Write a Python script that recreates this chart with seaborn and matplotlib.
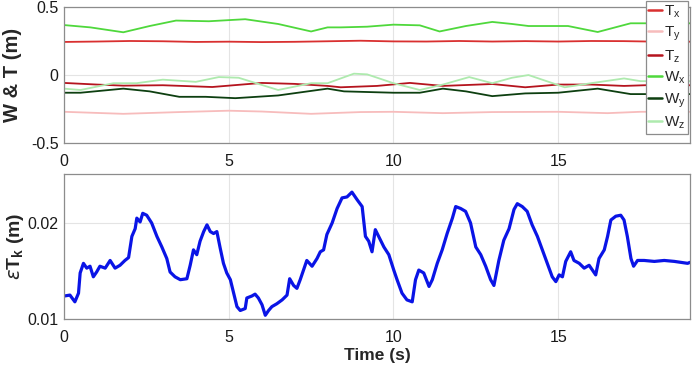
import matplotlib
matplotlib.use("Agg")
import matplotlib.pyplot as plt
import seaborn as sns
import pandas as pd

# --- top panel: W & T components (m) vs time (s) ---
t_tx = [0, 1.0, 2.0, 3.0, 4.0, 5.0, 6.0, 7.0, 8.0, 9.0, 10.0, 11.0, 12.0, 13.0, 14.0, 15.0, 16.0, 17.0, 18.0, 19.0]
tx = [0.243, 0.246, 0.25, 0.248, 0.243, 0.245, 0.242, 0.244, 0.248, 0.252, 0.247, 0.246, 0.25, 0.246, 0.249, 0.246, 0.25, 0.249, 0.245, 0.245]

t_ty = [0, 1.8, 3.5, 5.0, 6.0, 7.5, 9.0, 10.0, 11.5, 13.0, 15.0, 16.5, 17.5, 19.0]
ty = [-0.27, -0.285, -0.272, -0.262, -0.268, -0.285, -0.272, -0.27, -0.28, -0.272, -0.27, -0.28, -0.27, -0.27]

t_tz = [0, 1.0, 1.8, 3.0, 4.5, 6.0, 7.0, 8.0, 8.4, 9.5, 10.5, 11.5, 13.0, 14.0, 15.0, 16.0, 17.0, 18.0, 19.0]
tz = [-0.058, -0.07, -0.078, -0.075, -0.088, -0.058, -0.065, -0.08, -0.09, -0.08, -0.058, -0.08, -0.066, -0.09, -0.07, -0.07, -0.08, -0.072, -0.075]

t_wx = [0, 0.8, 1.8, 2.6, 3.4, 4.4, 5.5, 6.5, 7.5, 8.0, 8.4, 9.2, 10.0, 10.8, 11.4, 12.2, 13.0, 13.6, 14.1, 15.3, 16.2, 17.2, 18.0, 19.0]
wx = [0.367, 0.35, 0.314, 0.36, 0.40, 0.395, 0.41, 0.375, 0.32, 0.35, 0.35, 0.355, 0.37, 0.365, 0.32, 0.36, 0.39, 0.375, 0.36, 0.36, 0.316, 0.38, 0.38, 0.38]

t_wy = [0, 0.5, 1.8, 2.6, 3.5, 4.3, 5.2, 6.5, 8.0, 8.5, 10.0, 10.8, 11.5, 12.2, 13.0, 14.0, 15.0, 16.2, 17.2, 18.0, 19.0]
wy = [-0.13, -0.13, -0.10, -0.12, -0.16, -0.16, -0.17, -0.15, -0.10, -0.12, -0.13, -0.13, -0.10, -0.12, -0.155, -0.135, -0.13, -0.10, -0.14, -0.14, -0.14]

t_wz = [0, 0.5, 1.5, 2.2, 3.0, 4.0, 4.7, 5.3, 6.5, 7.5, 8.0, 8.8, 9.2, 10.0, 10.8, 11.5, 12.3, 13.0, 13.6, 14.1, 15.2, 16.0, 17.0, 17.5, 19.0]
wz = [-0.10, -0.11, -0.06, -0.06, -0.034, -0.05, -0.015, -0.02, -0.11, -0.06, -0.06, 0.01, 0.005, -0.06, -0.11, -0.07, -0.015, -0.06, -0.02, 0.0, -0.09, -0.06, -0.025, -0.045, -0.045]

# --- bottom panel: translation error (m) ---
t_err = [0, 0.18, 0.33, 0.44, 0.49, 0.59, 0.69, 0.79, 0.89, 0.99, 1.09, 1.25, 1.4, 1.55, 1.7, 1.85, 1.96,
         2.06, 2.16, 2.21, 2.31, 2.39, 2.51, 2.66, 2.82, 2.97, 3.12, 3.22, 3.37, 3.53, 3.73, 3.83, 3.93,
         4.03, 4.13, 4.24, 4.34, 4.44, 4.54, 4.64, 4.74, 4.84, 4.94, 5.05, 5.15, 5.25, 5.35, 5.5, 5.55,
         5.7, 5.8, 5.9, 6.01, 6.11, 6.21, 6.31, 6.46, 6.62, 6.77, 6.85, 6.97, 7.07, 7.17, 7.27, 7.37,
         7.53, 7.68, 7.78, 7.88, 7.98, 8.14, 8.29, 8.44, 8.59, 8.74, 8.9, 9.05, 9.15, 9.25, 9.35, 9.45,
         9.55, 9.71, 9.86, 10.01, 10.11, 10.26, 10.41, 10.57, 10.67, 10.77, 10.92, 11.08, 11.18, 11.33,
         11.48, 11.63, 11.79, 11.89, 12.04, 12.19, 12.34, 12.5, 12.65, 12.8, 12.95, 13.05, 13.2, 13.35,
         13.51, 13.66, 13.76, 13.91, 14.06, 14.21, 14.37, 14.52, 14.67, 14.82, 14.93, 15.03, 15.13,
         15.23, 15.38, 15.48, 15.64, 15.79, 15.94, 16.04, 16.14, 16.24, 16.4, 16.5, 16.6, 16.75, 16.9,
         17.0, 17.1, 17.21, 17.29, 17.41, 17.61, 17.92, 18.22, 18.53, 18.93, 19.0]
err = [0.0124, 0.0125, 0.0118, 0.0127, 0.0148, 0.0158, 0.0153, 0.0155, 0.0144, 0.0149, 0.0155, 0.0153,
       0.0161, 0.0153, 0.0156, 0.0161, 0.0164, 0.0186, 0.0194, 0.0205, 0.0201, 0.0210, 0.0208, 0.0200,
       0.0186, 0.0175, 0.0163, 0.0149, 0.0144, 0.0141, 0.0142, 0.0156, 0.0172, 0.0167, 0.0181, 0.0191,
       0.0198, 0.0191, 0.0189, 0.0191, 0.0174, 0.0158, 0.0148, 0.0141, 0.0127, 0.0113, 0.0109, 0.0111,
       0.0122, 0.0124, 0.0126, 0.0122, 0.0115, 0.0104, 0.0109, 0.0113, 0.0116, 0.0120, 0.0125, 0.0142,
       0.0135, 0.0132, 0.0141, 0.0151, 0.0161, 0.0155, 0.0163, 0.0170, 0.0172, 0.0188, 0.0200, 0.0215,
       0.0226, 0.0227, 0.0232, 0.0224, 0.0217, 0.0186, 0.0181, 0.0170, 0.0193, 0.0186, 0.0175, 0.0167,
       0.0151, 0.0141, 0.0127, 0.0120, 0.0118, 0.0141, 0.0151, 0.0148, 0.0134, 0.0141, 0.0158, 0.0172,
       0.0189, 0.0205, 0.0217, 0.0215, 0.0212, 0.0200, 0.0175, 0.0167, 0.0155, 0.0141, 0.0135, 0.0161,
       0.0182, 0.0194, 0.0214, 0.0220, 0.0217, 0.0212, 0.0198, 0.0186, 0.0172, 0.0158, 0.0144, 0.0139,
       0.0146, 0.0144, 0.0160, 0.0170, 0.0161, 0.0158, 0.0153, 0.0156, 0.0151, 0.0146, 0.0163, 0.0172,
       0.0186, 0.0203, 0.0207, 0.0208, 0.0203, 0.0186, 0.0163, 0.0155, 0.0161, 0.0161, 0.0160, 0.0161,
       0.0160, 0.0158, 0.0159]

series = [(r"T$_\mathrm{x}$", t_tx, tx, "#d93030"),
          (r"T$_\mathrm{y}$", t_ty, ty, "#f7bcbc"),
          (r"T$_\mathrm{z}$", t_tz, tz, "#b5141e"),
          (r"W$_\mathrm{x}$", t_wx, wx, "#4fd83c"),
          (r"W$_\mathrm{y}$", t_wy, wy, "#0d3f10"),
          (r"W$_\mathrm{z}$", t_wz, wz, "#aeeaae")]

sns.set_style("whitegrid")
plt.rcParams["font.family"] = ["Liberation Sans", "DejaVu Sans"]
plt.rcParams["mathtext.fontset"] = "custom"
plt.rcParams["mathtext.rm"] = "Liberation Sans"
plt.rcParams["mathtext.bf"] = "Liberation Sans:bold"

fig = plt.figure(figsize=(6.92, 3.66), dpi=100)
ax1 = fig.add_axes([0.0925, 0.609, 0.9045, 0.372])
ax2 = fig.add_axes([0.0925, 0.128, 0.9045, 0.397])

rows = []
for name, tt, vv, _ in series:
    for a, b in zip(tt, vv):
        rows.append({"t": a, "v": b, "s": name})
df = pd.DataFrame(rows)
pal = {name: c for name, _, _, c in series}
sns.lineplot(data=df, x="t", y="v", hue="s", palette=pal, ax=ax1, linewidth=1.3, sort=True,
             estimator=None)

df_err = pd.DataFrame({"t": t_err, "err": err})
sns.lineplot(data=df_err, x="t", y="err", ax=ax2, color="#0a14e6", linewidth=2.3, estimator=None)

for ax in (ax1, ax2):
    ax.set_xlim(0, 19)
    ax.set_xticks([0, 5, 10, 15])
    ax.grid(True, color="#e4e4e4", linewidth=0.8)
    for sp in ax.spines.values():
        sp.set_color("#8c8c8c")
        sp.set_linewidth(0.9)
    ax.tick_params(labelsize=11.5, colors="#1a1a1a", length=0)
    ax.tick_params(axis="x", pad=8)
    ax.tick_params(axis="y", pad=4)

ax1.set_ylim(-0.5, 0.5)
ax1.set_yticks([-0.5, 0, 0.5])
ax1.set_yticklabels(["-0.5", "0", "0.5"])
ax1.set_xlabel("")
ax1.set_ylabel("W & T (m)", fontsize=14.5, fontweight="bold", labelpad=6)

ax2.set_ylim(0.01, 0.0251)
ax2.set_yticks([0.01, 0.02])
ax2.set_yticklabels(["0.01", "0.02"])
ax2.set_xlabel("Time (s)", fontsize=12.5, fontweight="bold", labelpad=2)
ax2.set_ylabel(r"$\epsilon\mathbf{T_k}$ (m)", fontsize=14, fontweight="bold", labelpad=1)

leg = ax1.legend(loc="upper right", bbox_to_anchor=(0.9945, 0.998), bbox_transform=fig.transFigure,
                 fontsize=11, handlelength=0.9, handletextpad=0.15, labelspacing=0.32,
                 borderpad=0.15, borderaxespad=0, frameon=True, fancybox=False, title=None)
leg.get_frame().set_edgecolor("#8c8c8c")
leg.get_frame().set_linewidth(0.9)
leg.get_frame().set_alpha(1)
for h in leg.get_lines():
    h.set_linewidth(1.8)

plt.savefig("out.png", dpi=100)
plt.close()
